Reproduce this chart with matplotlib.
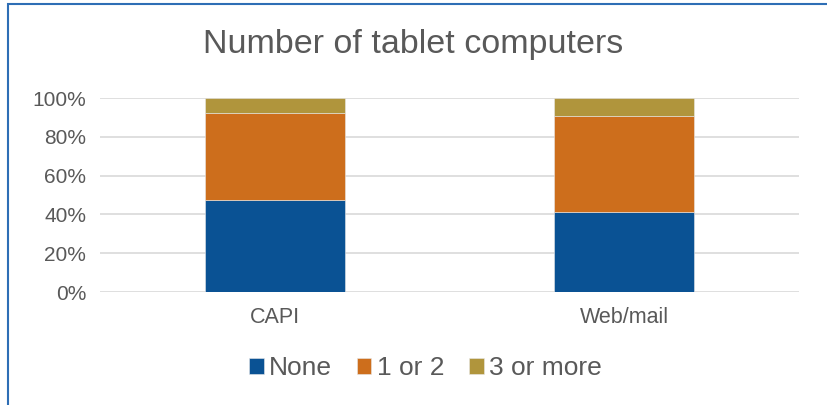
import numpy as np
import matplotlib.pyplot as plt
from matplotlib.patches import Rectangle

plt.rcParams['font.family'] = ['Liberation Sans', 'DejaVu Sans']

categories = ['CAPI', 'Web/mail']
series = ['None', '1 or 2', '3 or more']
none_vals = [47.5, 41.0]
one_two_vals = [45.0, 49.5]
three_plus_vals = [7.5, 9.5]
colors = ['#0A5294', '#CD6E1C', '#B0953C']

fig = plt.figure(figsize=(8.27, 4.05), dpi=100)
ax = fig.add_axes([100 / 827, 1 - 292 / 405, 699 / 827, 194 / 405])

x = np.arange(len(categories))
bottom = np.zeros(len(categories))
for name, vals, c in zip(series, [none_vals, one_two_vals, three_plus_vals], colors):
    ax.bar(x, vals, 0.4, bottom=bottom, color=c, label=name,
           edgecolor='#E8E8E8', linewidth=0.4, zorder=3)
    bottom += np.array(vals)

ax.set_xlim(-0.5, 1.5)
ax.set_ylim(0, 100)
ax.set_yticks(np.arange(0, 101, 20))
ax.set_yticklabels([f'{v}%' for v in range(0, 101, 20)])
ax.set_xticks(x)
ax.set_xticklabels(categories)
ax.tick_params(length=0, labelsize=15, colors='#595959')
ax.tick_params(axis='x', pad=11, labelsize=15.5)
ax.tick_params(axis='y', pad=10)
ax.grid(axis='y', color='#D9D9D9', linewidth=1.2, zorder=0)
for s in ax.spines.values():
    s.set_visible(False)

fig.text(0.5, 1 - 45 / 405, 'Number of tablet computers', ha='center', va='center',
         fontsize=24.5, color='#595959')

fig.legend(loc='center', bbox_to_anchor=(0.5 + 12 / 827, 1 - 368 / 405), ncol=3, frameon=False,
           fontsize=19, labelcolor='#595959', handlelength=0.55, handleheight=0.55,
           handletextpad=0.2, columnspacing=0.95)

# frame of the chart (top and left edges visible)
fig.add_artist(Rectangle((8 / 827, -0.1), 1.1, 1.1 - 4 / 405, transform=fig.transFigure,
                         fill=False, edgecolor='#2E6EB5', linewidth=1.5))

fig.savefig('out.png', dpi=100)
